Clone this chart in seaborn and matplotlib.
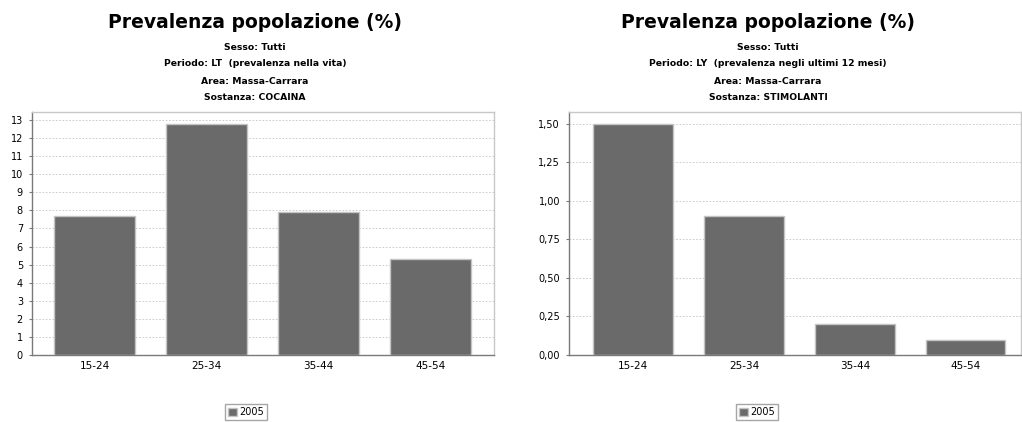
import pandas as pd
import matplotlib
matplotlib.use("Agg")
import matplotlib.pyplot as plt
import seaborn as sns
from matplotlib.ticker import FuncFormatter, MultipleLocator

# Data
ages = ["15-24", "25-34", "35-44", "45-54"]
cocaina_lt = [7.7, 12.8, 7.9, 5.3]
stimolanti_ly = [1.5, 0.9, 0.2, 0.1]
year = "2005"

title = "Prevalenza popolazione (%)"
subtitles_left = ["Sesso: Tutti", "Periodo: LT  (prevalenza nella vita)",
                  "Area: Massa-Carrara", "Sostanza: COCAINA"]
subtitles_right = ["Sesso: Tutti", "Periodo: LY  (prevalenza negli ultimi 12 mesi)",
                   "Area: Massa-Carrara", "Sostanza: STIMOLANTI"]

sns.set_style("white")
plt.rcParams['font.family'] = ['DejaVu Sans']
plt.rcParams['text.color'] = 'black'
plt.rcParams['xtick.color'] = 'black'
plt.rcParams['ytick.color'] = 'black'

fig = plt.figure(figsize=(10.22, 4.22), dpi=100)
ax1 = fig.add_axes([32 / 1022, 67 / 422, 462 / 1022, 243 / 422])
ax2 = fig.add_axes([569 / 1022, 67 / 422, 452 / 1022, 243 / 422])

bar_color = "#6a6a6a"


def draw(ax, values, ymax, step, fmt, xlim, cx, subs, leg_x):
    df = pd.DataFrame({"age": ages, "value": values, "year": year})
    sns.barplot(data=df, x="age", y="value", hue="year", palette=[bar_color],
                width=0.72, edgecolor="#c4c4c4", linewidth=1, saturation=1,
                ax=ax, zorder=3)
    ax.set_ylim(0, ymax)
    ax.set_xlim(*xlim)
    ax.yaxis.set_major_locator(MultipleLocator(step))
    ax.yaxis.set_major_formatter(FuncFormatter(fmt))
    ax.grid(axis="y", linestyle=(0, (2, 2)), color="#c4c4c4", linewidth=0.6, zorder=0)
    ax.set_xlabel("")
    ax.set_ylabel("")
    for s in ["top", "right"]:
        ax.spines[s].set_color("#c8c8c8")
    for s in ["left", "bottom"]:
        ax.spines[s].set_color("#7a7a7a")
    for s in ax.spines.values():
        s.set_linewidth(1)
    ax.tick_params(axis="y", length=2.5, width=0.8, color="#7a7a7a", labelcolor="black",
                   labelsize=7, pad=4, left=True)
    ax.tick_params(axis="x", length=0, labelsize=7.5, labelcolor="black", pad=4)
    ax.get_legend().remove()
    fig.text(cx / 1022, 1 - 22 / 422, title, ha="center", va="center",
             fontsize=13.5, fontweight="bold", color="black")
    for i, s in enumerate(subs):
        fig.text(cx / 1022, 1 - (47 + 17 * i) / 422, s, ha="center", va="center",
                 fontsize=6.7, fontweight="bold", color="black")
    handles, labels = ax.get_legend_handles_labels()
    fig.legend(handles, labels, loc="center", bbox_to_anchor=(leg_x / 1022, 1 - 412 / 422),
               fontsize=7, frameon=True, fancybox=False, edgecolor="#909090",
               handlelength=0.9, handleheight=0.9, handletextpad=0.3,
               borderpad=0.3, borderaxespad=0)


draw(ax1, cocaina_lt, 12.8 * 1.05, 1, lambda v, p: f"{v:.0f}",
     (-0.56, 3.57), 255, subtitles_left, 246)
draw(ax2, stimolanti_ly, 1.5 * 1.05, 0.25, lambda v, p: f"{v:.2f}".replace(".", ","),
     (-0.58, 3.5), 768, subtitles_right, 757)

fig.savefig("out.png", dpi=100)
